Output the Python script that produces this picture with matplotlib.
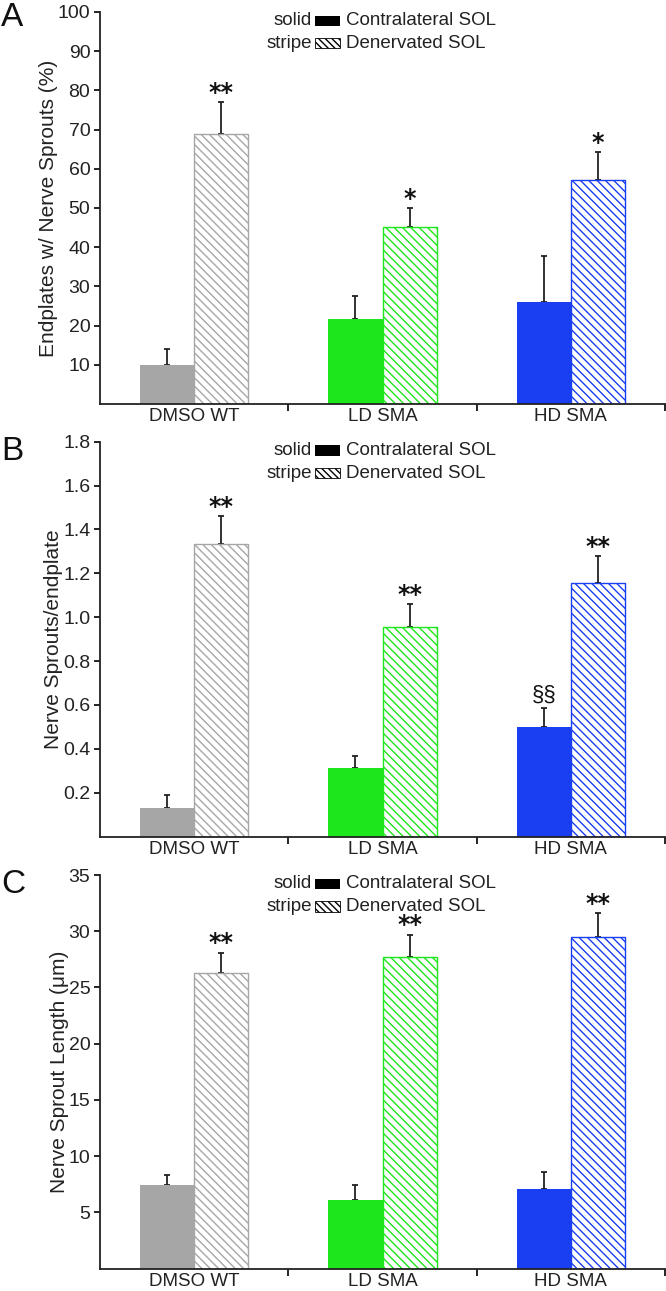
import matplotlib
matplotlib.use("Agg")
import matplotlib.pyplot as plt
from matplotlib.patches import Rectangle

plt.rcParams['font.family'] = ['Liberation Sans', 'DejaVu Sans']
plt.rcParams['hatch.linewidth'] = 1.0

# datos
grupos = ['DMSO WT', 'LD SMA', 'HD SMA']
colores = ['#a6a6a6', '#1de61a', '#1a3ef2']

pct_contra = [10.0, 21.6, 26.0]
pct_contra_err = [4.0, 6.0, 11.7]
pct_dener = [68.9, 45.1, 57.2]
pct_dener_err = [8.1, 4.9, 7.0]
pct_sig_contra = ['', '', '']
pct_sig_dener = ['**', '*', '*']

spr_contra = [0.13, 0.314, 0.498]
spr_contra_err = [0.058, 0.055, 0.088]
spr_dener = [1.332, 0.957, 1.157]
spr_dener_err = [0.130, 0.102, 0.121]
spr_sig_contra = ['', '', '§§']
spr_sig_dener = ['**', '**', '**']

len_contra = [7.43, 6.09, 7.04]
len_contra_err = [0.91, 1.31, 1.51]
len_dener = [26.26, 27.68, 29.5]
len_dener_err = [1.84, 2.02, 2.1]
len_sig_contra = ['', '', '']
len_sig_dener = ['**', '**', '**']

W, H = 666, 1291
fig = plt.figure(figsize=(W / 100, H / 100), dpi=100)


def panel(rect, letra, y_letra, contra, contra_err, dener, dener_err, sig_c, sig_d,
          ylim, yticks, yticklabels, ylabel):
    ax = fig.add_axes(rect)
    x = range(len(grupos))
    ancho = 0.287
    for i in x:
        ax.bar(i - ancho / 2, contra[i], ancho, color=colores[i], linewidth=0, zorder=2)
        ax.bar(i + ancho / 2, dener[i], ancho, color='white', edgecolor=colores[i],
               hatch='\\\\\\\\', linewidth=1.0, zorder=2)
        ax.errorbar(i - ancho / 2, contra[i], yerr=[[0], [contra_err[i]]], fmt='none',
                    ecolor='#222222', elinewidth=1.3, capsize=2.2, capthick=1.3, zorder=1)
        ax.errorbar(i + ancho / 2, dener[i], yerr=[[0], [dener_err[i]]], fmt='none',
                    ecolor='#222222', elinewidth=1.3, capsize=2.2, capthick=1.3, zorder=1)
        if sig_c[i]:
            ax.annotate(sig_c[i], (i - ancho / 2, contra[i] + contra_err[i]),
                        xytext=(0, 2), textcoords='offset points',
                        ha='center', va='bottom', fontsize=16, color='#111111')
        if sig_d[i]:
            ax.annotate(sig_d[i], (i + ancho / 2, dener[i] + dener_err[i]),
                        xytext=(0, -2), textcoords='offset points',
                        ha='center', va='bottom', fontsize=17, fontweight='bold',
                        color='#111111', family='DejaVu Sans')

    ax.set_xlim(-0.5, 2.5)
    ax.set_ylim(*ylim)
    ax.set_yticks(yticks)
    ax.set_yticklabels(yticklabels, fontsize=14, color='#222222')
    ax.set_xticks([0.5, 1.5, 2.5])
    ax.set_xticklabels([])
    ax.set_xticks(list(x), minor=True)
    ax.set_xticklabels(grupos, minor=True, fontsize=13.5, color='#222222')
    ax.tick_params(axis='x', which='minor', length=0, pad=3)
    ax.tick_params(axis='x', which='major', length=5, width=1.2, direction='out')
    ax.tick_params(axis='y', length=4, width=1.2, direction='out', pad=3)
    for s in ['top', 'right']:
        ax.spines[s].set_visible(False)
    for s in ['left', 'bottom']:
        ax.spines[s].set_linewidth(1.3)
        ax.spines[s].set_color('#222222')
    ax.set_ylabel(ylabel, fontsize=15, color='#222222', labelpad=0)
    fig.text(1 / W, 1 - y_letra / H, letra, fontsize=24, ha='left', va='top',
             color='#111111')

    # leyenda
    filas = [('solid', 'Contralateral SOL', 'black', None),
             ('stripe', 'Denervated SOL', 'white', '\\\\\\\\\\')]
    for k, (pre, lab, fc, ht) in enumerate(filas):
        yy = 0.978 - k * 0.058
        ax.text(0.375, yy, pre, transform=ax.transAxes, ha='right', va='center',
                fontsize=13.5, color='#222222')
        ax.add_patch(Rectangle((0.381, yy - 0.013), 0.044, 0.026, transform=ax.transAxes,
                               facecolor=fc, edgecolor='black', hatch=ht,
                               linewidth=0.6 if ht else 0, clip_on=False))
        ax.text(0.436, yy, lab, transform=ax.transAxes, ha='left', va='center',
                fontsize=13.5, color='#222222')
    return ax


izq = 100 / W
ancho_ax = 565 / W


def caja(top, bottom):
    return [izq, 1 - bottom / H, ancho_ax, (bottom - top) / H]


panel(caja(12, 404), 'A', 2, pct_contra, pct_contra_err, pct_dener, pct_dener_err,
      pct_sig_contra, pct_sig_dener, (0, 100), list(range(10, 101, 10)),
      [str(v) for v in range(10, 101, 10)], 'Endplates w/ Nerve Sprouts (%)')

yt_b = [0.2, 0.4, 0.6, 0.8, 1.0, 1.2, 1.4, 1.6, 1.8]
panel(caja(441.7, 836.6), 'B', 436, spr_contra, spr_contra_err, spr_dener, spr_dener_err,
      spr_sig_contra, spr_sig_dener, (0, 1.8), yt_b,
      [f'{v:.1f}' for v in yt_b], 'Nerve Sprouts/endplate')

yt_c = [5, 10, 15, 20, 25, 30, 35]
panel(caja(875, 1268.5), 'C', 869, len_contra, len_contra_err, len_dener, len_dener_err,
      len_sig_contra, len_sig_dener, (0, 35), yt_c,
      [str(v) for v in yt_c], 'Nerve Sprout Length (\u03bcm)')

fig.savefig('out.png', dpi=100)
